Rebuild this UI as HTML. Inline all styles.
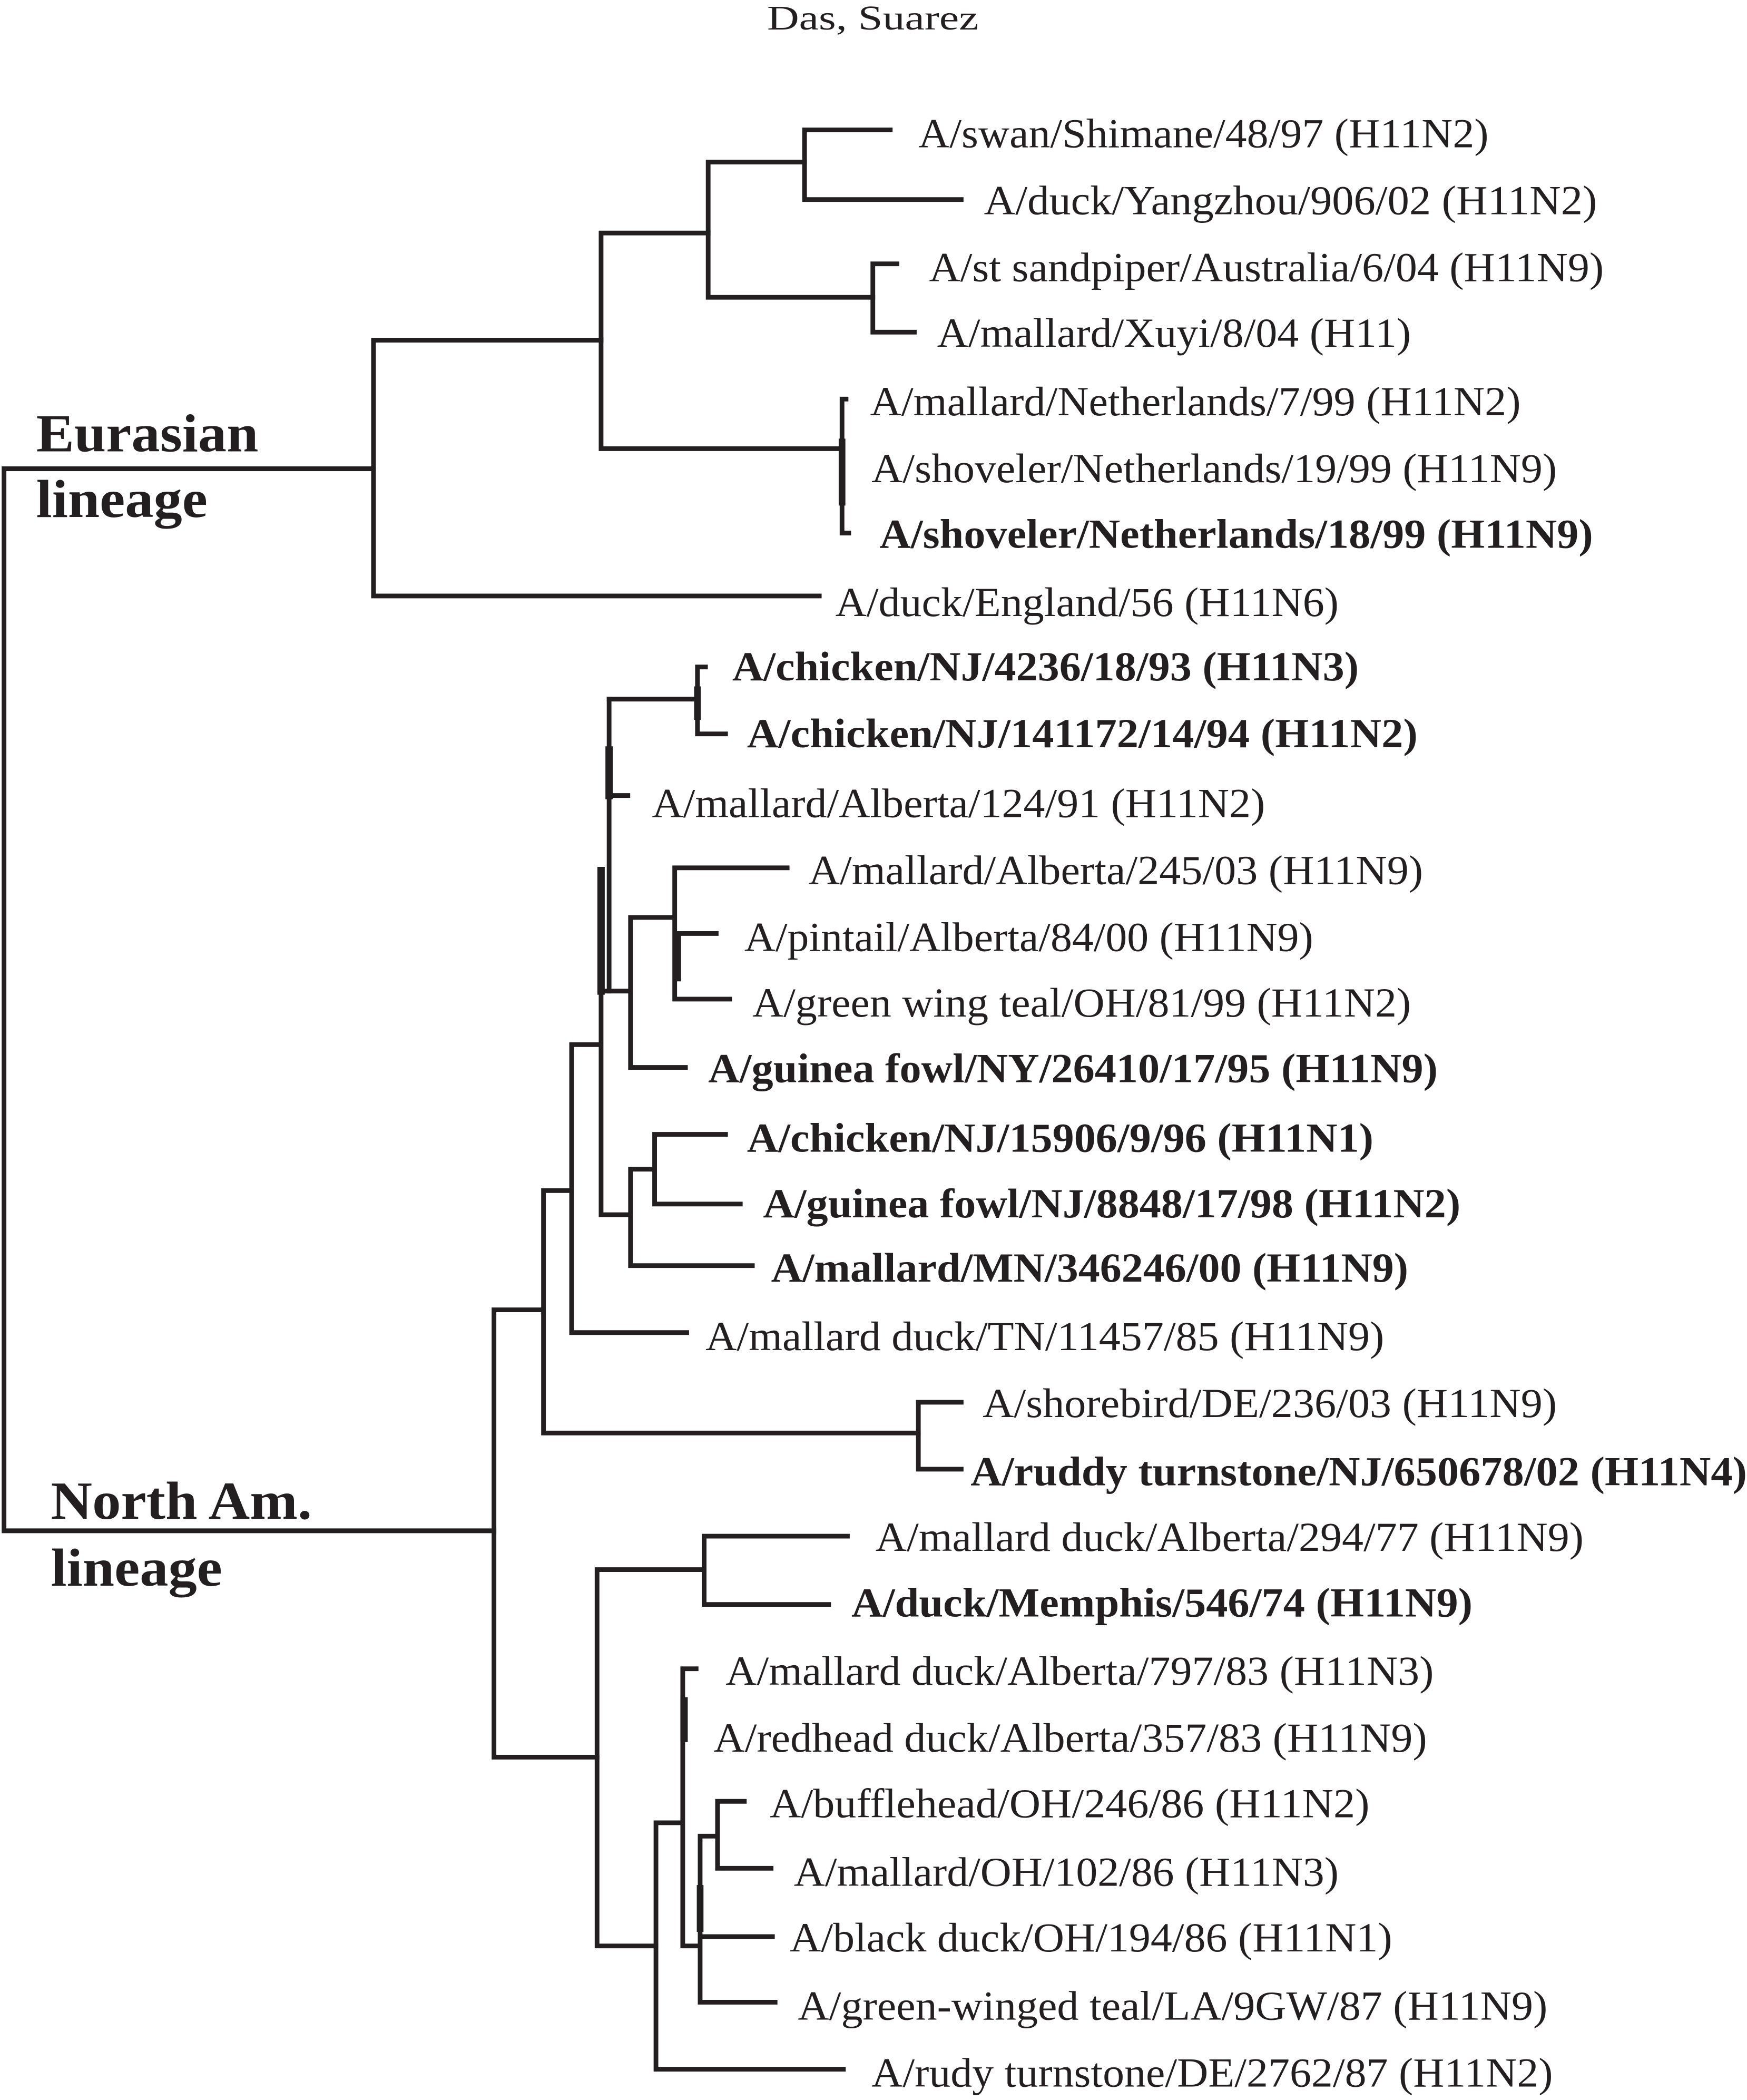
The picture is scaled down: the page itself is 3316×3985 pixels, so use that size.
<!DOCTYPE html>
<html><head><meta charset="utf-8"><style>
html,body{margin:0;padding:0;background:#fff;}
svg{display:block;}
text{font-family:"Liberation Serif",serif;fill:#231f20;}
.n{font-size:31px;}
.b{font-size:31px;font-weight:bold;}
.h{font-size:40px;font-weight:bold;}
</style></head><body>
<svg width="3316" height="3985" viewBox="0 0 1305 1568" preserveAspectRatio="none" xmlns="http://www.w3.org/2000/svg">
<g stroke="#231f20" stroke-width="3.5" fill="none" stroke-linecap="square">
<path d="M3 350 V1143 M3 350 H279 M3 1143 H369"/>
<path d="M279 254 V445 M279 445 H612 M279 254 H449"/>
<path d="M449 174 V335 M449 174 H529 M449 335 H628"/>
<path d="M529 121 V222 M529 121 H601 M529 222 H652"/>
<path d="M601 97 V149 M601 97 H665 M601 149 H718"/>
<path d="M652 197 V248 M652 197 H670 M652 248 H683"/>
<path d="M629 298 V398 M629 298 H632 M629 398 H634"/>
<path d="M629 330 V375" stroke-width="5"/>
<path d="M369 978 V1312 M369 978 H405 M369 1312 H446"/>
<path d="M406 889 V1070 M406 889 H426 M406 1070 H686"/>
<path d="M686 1047 V1097 M686 1047 H718 M686 1097 H718"/>
<path d="M427 780 V995 M427 995 H513 M427 780 H448"/>
<path d="M449 650 V907 M449 740 H470 M449 907 H470"/>
<path d="M449 650 V740" stroke-width="5.5"/>
<path d="M455 522 V740 M455 594 H469"/>
<path d="M455 560 V594" stroke-width="5.5"/>
<path d="M455 522 H520"/>
<path d="M521 498 V548 M521 498 H527 M521 548 H542"/>
<path d="M521 515 V535" stroke-width="5"/>
<path d="M471 685 V797 M471 685 H503 M471 797 H512"/>
<path d="M504 648 V746 M504 648 H588 M504 697 H535 M504 746 H545"/>
<path d="M506 700 V730" stroke-width="5.5"/>
<path d="M471 873 V945 M471 873 H489 M471 945 H562"/>
<path d="M489 847 V899 M489 847 H542 M489 899 H553"/>
<path d="M446 1172 V1453 M446 1172 H526 M446 1453 H490"/>
<path d="M526 1147 V1198 M526 1147 H633 M526 1198 H619"/>
<path d="M490 1361 V1545 M490 1361 H507 M490 1545 H630"/>
<path d="M510 1246 V1453 M510 1246 H520 M510 1453 H522"/>
<path d="M511 1270 V1298" stroke-width="5.5"/>
<path d="M523 1371 V1495 M523 1371 H535 M523 1446 H577 M523 1495 H579"/>
<path d="M523 1410 V1440" stroke-width="5"/>
<path d="M536 1345 V1395 M536 1345 H556 M536 1395 H576"/>
</g>
<text x="652" y="22" style="font-family:'Liberation Serif',serif;font-size:26px" text-anchor="middle" textLength="158" lengthAdjust="spacingAndGlyphs">Das, Suarez</text>
<text x="27" y="337" class="h" textLength="166" lengthAdjust="spacingAndGlyphs">Eurasian</text>
<text x="27" y="386" class="h" textLength="128" lengthAdjust="spacingAndGlyphs">lineage</text>
<text x="38" y="1134" class="h" textLength="195" lengthAdjust="spacingAndGlyphs">North Am.</text>
<text x="38" y="1184" class="h" textLength="128" lengthAdjust="spacingAndGlyphs">lineage</text>
<g>
<text class="n" x="686" y="110" textLength="426" lengthAdjust="spacingAndGlyphs">A/swan/Shimane/48/97 (H11N2)</text>
<text class="n" x="735" y="160" textLength="458" lengthAdjust="spacingAndGlyphs">A/duck/Yangzhou/906/02 (H11N2)</text>
<text class="n" x="694" y="210" textLength="504" lengthAdjust="spacingAndGlyphs">A/st sandpiper/Australia/6/04 (H11N9)</text>
<text class="n" x="700" y="259" textLength="354" lengthAdjust="spacingAndGlyphs">A/mallard/Xuyi/8/04 (H11)</text>
<text class="n" x="650" y="310" textLength="486" lengthAdjust="spacingAndGlyphs">A/mallard/Netherlands/7/99 (H11N2)</text>
<text class="n" x="651" y="360" textLength="512" lengthAdjust="spacingAndGlyphs">A/shoveler/Netherlands/19/99 (H11N9)</text>
<text class="b" x="657" y="409" textLength="533" lengthAdjust="spacingAndGlyphs">A/shoveler/Netherlands/18/99 (H11N9)</text>
<text class="n" x="624" y="460" textLength="376" lengthAdjust="spacingAndGlyphs">A/duck/England/56 (H11N6)</text>
<text class="b" x="547" y="508" textLength="468" lengthAdjust="spacingAndGlyphs">A/chicken/NJ/4236/18/93 (H11N3)</text>
<text class="b" x="558" y="558" textLength="501" lengthAdjust="spacingAndGlyphs">A/chicken/NJ/141172/14/94 (H11N2)</text>
<text class="n" x="487" y="610" textLength="458" lengthAdjust="spacingAndGlyphs">A/mallard/Alberta/124/91 (H11N2)</text>
<text class="n" x="604" y="660" textLength="459" lengthAdjust="spacingAndGlyphs">A/mallard/Alberta/245/03 (H11N9)</text>
<text class="n" x="556" y="710" textLength="425" lengthAdjust="spacingAndGlyphs">A/pintail/Alberta/84/00 (H11N9)</text>
<text class="n" x="562" y="759" textLength="492" lengthAdjust="spacingAndGlyphs">A/green wing teal/OH/81/99 (H11N2)</text>
<text class="b" x="529" y="808" textLength="545" lengthAdjust="spacingAndGlyphs">A/guinea fowl/NY/26410/17/95 (H11N9)</text>
<text class="b" x="558" y="860" textLength="468" lengthAdjust="spacingAndGlyphs">A/chicken/NJ/15906/9/96 (H11N1)</text>
<text class="b" x="570" y="909" textLength="521" lengthAdjust="spacingAndGlyphs">A/guinea fowl/NJ/8848/17/98 (H11N2)</text>
<text class="b" x="576" y="957" textLength="476" lengthAdjust="spacingAndGlyphs">A/mallard/MN/346246/00 (H11N9)</text>
<text class="n" x="527" y="1008" textLength="507" lengthAdjust="spacingAndGlyphs">A/mallard duck/TN/11457/85 (H11N9)</text>
<text class="n" x="734" y="1058" textLength="429" lengthAdjust="spacingAndGlyphs">A/shorebird/DE/236/03 (H11N9)</text>
<text class="b" x="725" y="1109" textLength="580" lengthAdjust="spacingAndGlyphs">A/ruddy turnstone/NJ/650678/02 (H11N4)</text>
<text class="n" x="654" y="1158" textLength="529" lengthAdjust="spacingAndGlyphs">A/mallard duck/Alberta/294/77 (H11N9)</text>
<text class="b" x="636" y="1207" textLength="464" lengthAdjust="spacingAndGlyphs">A/duck/Memphis/546/74 (H11N9)</text>
<text class="n" x="542" y="1258" textLength="529" lengthAdjust="spacingAndGlyphs">A/mallard duck/Alberta/797/83 (H11N3)</text>
<text class="n" x="533" y="1308" textLength="533" lengthAdjust="spacingAndGlyphs">A/redhead duck/Alberta/357/83 (H11N9)</text>
<text class="n" x="575" y="1357" textLength="448" lengthAdjust="spacingAndGlyphs">A/bufflehead/OH/246/86 (H11N2)</text>
<text class="n" x="593" y="1408" textLength="407" lengthAdjust="spacingAndGlyphs">A/mallard/OH/102/86 (H11N3)</text>
<text class="n" x="590" y="1457" textLength="450" lengthAdjust="spacingAndGlyphs">A/black duck/OH/194/86 (H11N1)</text>
<text class="n" x="596" y="1508" textLength="560" lengthAdjust="spacingAndGlyphs">A/green-winged teal/LA/9GW/87 (H11N9)</text>
<text class="n" x="651" y="1558" textLength="509" lengthAdjust="spacingAndGlyphs">A/rudy turnstone/DE/2762/87 (H11N2)</text>
</g>
</svg>
</body></html>
